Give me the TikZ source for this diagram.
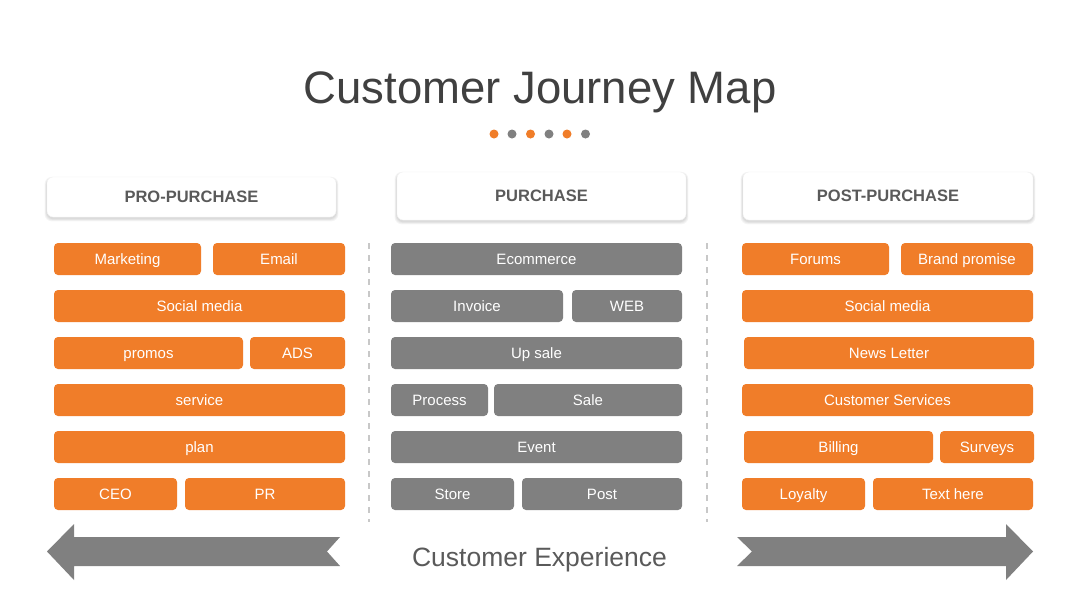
\documentclass[tikz,border=0pt]{standalone}
\usepackage{fontspec}
\setmainfont{Liberation Sans}
\definecolor{cjorange}{HTML}{F07D29}
\definecolor{cjgray}{HTML}{808080}
\definecolor{cjtitle}{HTML}{404040}
\definecolor{cjhead}{HTML}{5A5A5A}
\definecolor{cjdash}{HTML}{C8C8C8}
\tikzset{
  tag/.style={rounded corners=4pt, minimum height=32pt, inner sep=0pt, text=white,
    text height=10.8pt, text depth=0pt, font=\fontsize{15}{17}\selectfont},
  otag/.style={tag, fill=cjorange},
  gtag/.style={tag, fill=cjgray},
  headbox/.style={rounded corners=6pt, fill=white, draw=black!5, line width=0.4pt, inner sep=0pt,
    text=cjhead, font=\bfseries\fontsize{16.5}{19}\selectfont, text height=11.9pt, text depth=0pt},
  shadowlayer/.style={fill=black, opacity=0.035, rounded corners=7pt},
  sepline/.style={draw=cjdash, line width=2pt, dash pattern=on 6pt off 6pt},
  bigarrow/.style={fill=cjgray},
  dotorange/.style={circle, fill=cjorange, minimum size=9pt, inner sep=0pt},
  dotgray/.style={circle, fill=cjgray, minimum size=9pt, inner sep=0pt}
}
\newcommand{\cjshadow}[4]{%
  \foreach \k in {1,...,4}{%
    \fill[shadowlayer] ({#1-0.6*\k},{#2-0.4*\k+1.5}) rectangle ({#3+0.6*\k},{#4+0.7*\k+1.5});
  }}
\begin{document}
\begin{tikzpicture}[x=1pt,y=-1pt]
\useasboundingbox[fill=white] (0,0) rectangle (1080,608);
% title
\node[anchor=base, text=cjtitle, font=\fontsize{45.5}{50}\selectfont, inner sep=0pt] (title) at (540,103) {Customer Journey Map};
\node[dotorange] (d1) at (494,134) {};
\node[dotgray]   (d2) at (512,134) {};
\node[dotorange] (d3) at (530.5,134) {};
\node[dotgray]   (d4) at (549,134) {};
\node[dotorange] (d5) at (567,134) {};
\node[dotgray]   (d6) at (585.5,134) {};
% header shadows
\cjshadow{47}{177}{336}{217}
\cjshadow{397}{172}{686}{220}
\cjshadow{743}{172}{1033}{220}
% headers
\node[headbox, minimum width=289pt, minimum height=40pt] (h1) at (191.5,197) {PRO-PURCHASE};
\node[headbox, minimum width=289pt, minimum height=48pt] (h2) at (541.5,196) {PURCHASE};
\node[headbox, minimum width=290pt, minimum height=48pt] (h3) at (888,196) {POST-PURCHASE};
% left column
\node[otag, minimum width=147pt] (l11) at (127.5,259) {Marketing};
\node[otag, minimum width=132pt] (l12) at (279,259) {Email};
\node[otag, minimum width=291pt] (l2) at (199.5,306) {Social media};
\node[otag, minimum width=189pt] (l31) at (148.5,353) {promos};
\node[otag, minimum width=95pt] (l32) at (297.5,353) {ADS};
\node[otag, minimum width=291pt] (l4) at (199.5,400) {service};
\node[otag, minimum width=291pt] (l5) at (199.5,447) {plan};
\node[otag, minimum width=123pt] (l61) at (115.5,494) {CEO};
\node[otag, minimum width=160pt] (l62) at (265,494) {PR};
% middle column
\node[gtag, minimum width=291pt] (m1) at (536.5,259) {Ecommerce};
\node[gtag, minimum width=172pt] (m21) at (477,306) {Invoice};
\node[gtag, minimum width=110pt] (m22) at (627,306) {WEB};
\node[gtag, minimum width=291pt] (m3) at (536.5,353) {Up sale};
\node[gtag, minimum width=97pt] (m41) at (439.5,400) {Process};
\node[gtag, minimum width=188pt] (m42) at (588,400) {Sale};
\node[gtag, minimum width=291pt] (m5) at (536.5,447) {Event};
\node[gtag, minimum width=123pt] (m61) at (452.5,494) {Store};
\node[gtag, minimum width=160pt] (m62) at (602,494) {Post};
% right column
\node[otag, minimum width=147pt] (r11) at (815.5,259) {Forums};
\node[otag, minimum width=132pt] (r12) at (967,259) {Brand promise};
\node[otag, minimum width=291pt] (r2) at (887.5,306) {Social media};
\node[otag, minimum width=290pt] (r3) at (889,353) {News Letter};
\node[otag, minimum width=291pt] (r4) at (887.5,400) {Customer Services};
\node[otag, minimum width=189pt] (r51) at (838.5,447) {Billing};
\node[otag, minimum width=94pt] (r52) at (987,447) {Surveys};
\node[otag, minimum width=123pt] (r61) at (803.5,494) {Loyalty};
\node[otag, minimum width=160pt] (r62) at (953,494) {Text here};
% separators
\coordinate (s1a) at (369,243); \coordinate (s1b) at (369,522);
\coordinate (s2a) at (707,243); \coordinate (s2b) at (707,522);
\draw[sepline] (s1a) -- (s1b);
\draw[sepline] (s2a) -- (s2b);
% arrows
\fill[bigarrow] (47,551.5) -- (74,524) -- (74,537) -- (340,537) -- (327,551.5) -- (340,566) -- (74,566) -- (74,580) -- cycle;
\fill[bigarrow] (737,537) -- (1006,537) -- (1006,524) -- (1033,551.5) -- (1006,580) -- (1006,566) -- (737,566) -- (752,551.5) -- cycle;
\node[anchor=base, text=cjhead, font=\fontsize{26.5}{30}\selectfont, inner sep=0pt] (ce) at (539.5,566) {Customer Experience};
\end{tikzpicture}
\end{document}
